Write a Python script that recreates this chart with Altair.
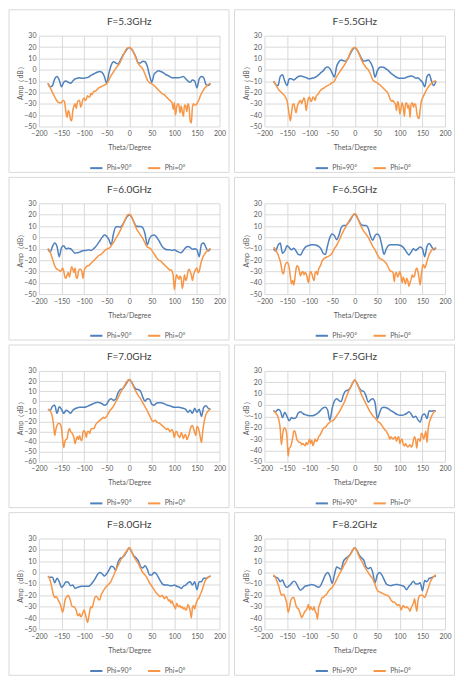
import altair as alt
import pandas as pd

FONT = "Lato"
BLUE = "#4F81BD"
ORANGE = "#F79646"
SERIES = ["Phi=90°", "Phi=0°"]
TITLES = ["F=5.3GHz", "F=5.5GHz", "F=6.0GHz", "F=6.5GHz",
          "F=7.0GHz", "F=7.5GHz", "F=8.0GHz", "F=8.2GHz"]
X_TICKS = [-200, -150, -100, -50, 0, 50, 100, 150, 200]
Y_MIN = [-50, -50, -50, -50, -60, -50, -50, -50]

THETA_B = list(range(-180, 181, 5))
THETA_O = [i * 2.5 for i in range(-72, 73)]

# Phi=90 deg (blue), 5 degree steps
B53 = [-12, -15, -14, -8, -6, -9, -15, -11, -10, -11, -12,
       -10, -8, -7.5, -7, -7.5, -7.5, -7, -6.5, -5, -4,
       -3, -2, -1.5, -2.5, -6, -12, -3, 4, 7, 6,
       5, 8, 12, 15, 18, 19.5, 18, 15, 11, 6,
       6, 7.5, 7, 3, -5, -11, -4, -2, -1, -1.5,
       -2.5, -4, -5, -6, -7, -7, -7, -7, -6.5, -6,
       -8, -10, -11, -9, -10, -16, -8, -6, -7, -13, -14, -12]
B55 = [-10, -13, -14, -6, -4.5, -10, -14, -8, -8, -9, -7.5,
       -6, -5.5, -6, -6.5, -7.5, -8, -7.5, -7, -6, -4.5,
       -2.5, -1, 1.5, 2.5, 1, -3, -6.5, 3, 7, 8.5,
       8, 7.5, 10, 14, 17.5, 19.5, 17.5, 14, 10, 7.5,
       8, 8.5, 6.5, 2, -6.5, -1, 2, 2.5, 2, 0.5,
       -1, -3, -4.5, -6, -7, -7.5, -7.5, -7.5, -6.5, -6,
       -5.5, -6, -7.5, -7, -9, -11, -15, -6, -4, -10, -14, -10]
B60 = [-10, -13, -8, -5, -8, -17, -9, -7.5, -10, -9.5, -10,
       -12, -14, -13.5, -13, -12, -11.5, -11.5, -11, -11.5, -10.5,
       -8.5, -6, -3, 0, 2, 1, -2, -6.5, 3, 9,
       9.5, 9, 11, 14.5, 18, 20, 18, 14, 10, 9.5,
       9.5, 8.5, 3, -6.5, -1, 1.5, 2, 0.5, -2.5, -6,
       -9, -10.5, -11, -11, -11.5, -11, -12, -13, -13.5, -11.5,
       -9, -8, -9, -10.5, -10, -11, -17, -6, -5, -9, -12, -10]
B65 = [-10, -12, -7, -5, -14, -12, -7.5, -9, -11, -9.5, -12,
       -15, -15.5, -12, -9, -7.5, -7, -6.5, -6.5, -7, -8,
       -10, -14, -15, -7, 0, 3, 1.5, -2, 2, 8.5,
       10.5, 10.5, 12.5, 15, 18.5, 20.5, 18, 14, 11, 10.5,
       10.5, 8, 1, -2.5, 1.5, 3, 1, -7, -15, -10,
       -7, -6.5, -6.5, -6.5, -6.5, -7, -8, -10, -13, -15.5,
       -13, -10, -11.5, -10, -8.5, -10, -17, -8, -5.5, -8, -11, -9]
B70 = [-8, -9, -5, -4, -12, -5.5, -8, -12, -9, -10, -12,
       -9, -7.5, -6.5, -6, -6, -6, -5.5, -4.5, -3.5, -2.5,
       -1.5, -1, -1.5, -2.5, -4, -3, 1, 2.5, 1, 2,
       8, 11.5, 12, 15, 18.5, 21.5, 19, 15, 12, 11.5,
       10, 4, 0, 2.5, 2, -3, -4, -2, -1.5, -1.5,
       -2, -3, -4, -4.5, -5.5, -6, -6, -6, -6.5, -7,
       -8, -11, -9, -12, -7, -11, -8, -15, -6, -4.5, -7, -8]
B75 = [-5, -6, -4, -5, -11, -6.5, -10, -14, -11, -12, -11,
       -7, -6, -7.5, -8.5, -9, -9.5, -9.5, -9, -8, -6.5,
       -4.5, -2.5, -2, -4.5, -13.5, -3, 3.5, 5.5, 4, 3,
       9, 12.5, 13, 15, 19, 22, 19, 15, 12.5, 12,
       8, 2.5, 4.5, 5.5, 2, -12, -7, -2.5, -2, -2.5,
       -3.5, -5, -6, -7.5, -8.5, -9, -9, -8.5, -7.5, -6,
       -8, -11, -10, -13, -15, -9, -8, -12, -5, -5.5, -5, -5]
B80 = [-3.5, -4, -4, -9, -5, -8, -13, -11, -8, -8.5, -11.5,
       -11, -14, -13, -12.5, -12, -12, -12, -12, -10.5, -8,
       -5, -1.5, 0, -1, -3, -1, 2, 5.5, 5, 2,
       9, 12.5, 13.5, 15.5, 19, 22, 18.5, 15, 13, 10.5,
       5.5, 4, 6, 3, -2, -2, 0, -1, -4.5, -8,
       -10.5, -11, -11, -11.5, -11.5, -11, -12, -12.5, -14, -12,
       -11, -9, -8, -11, -8, -15, -8, -8, -5, -5, -4, -3]
B82 = [-3, -4, -5, -8, -6.5, -11, -13, -11.5, -9.5, -7.5, -9,
       -13, -15.5, -14, -12, -11.5, -11, -10.5, -11, -12, -13,
       -11, -6.5, -2, 0, -3, -9.5, -2, 5, 4, 3,
       10, 12.5, 14, 16, 19.5, 22, 19.5, 15.5, 13, 11,
       5, 3.5, 4.5, 0, -9, -2, 0, -2, -6, -10,
       -11, -11.5, -11, -10.5, -10.5, -11, -11.5, -12.5, -15, -12,
       -10, -7.5, -10, -10, -9, -16, -7, -8, -5, -4.5, -3.5, -3]

# Phi=0 deg (orange), 2.5 degree steps
O53 = [-12, -14, -16, -18, -20, -22, -24, -26, -27.5, -28.5,
       -29, -29, -29, -27, -27, -30, -38, -42, -36, -38,
       -44, -45, -36, -32, -30, -34, -29, -27, -27, -33,
       -30, -26, -25, -27, -26, -23, -24, -24, -21, -22,
       -20, -19, -19, -18, -17, -16, -15.5, -15, -14.5, -14,
       -13.5, -13, -12.5, -11, -9, -7, -5, -3.5, -2, -0.5,
       1, 2.5, 3.5, 5, 6.5, 9, 11, 13.5, 15.5, 17.5,
       18.8, 19.5, 19.7, 19.5, 18.5, 17, 15, 12.5, 10, 7.5,
       5.5, 4, 3, 2, 0.5, -1.5, -4, -6.5, -9, -10.5,
       -11.5, -12, -12.5, -13, -14, -15, -16, -17, -18, -19,
       -20, -21, -21.5, -22, -23, -24, -25, -26, -27, -28,
       -29, -35, -29, -40, -33, -30, -31, -38, -32, -37,
       -41, -31, -32, -37, -30, -33, -45, -47, -33, -30,
       -31, -31, -30, -28, -26, -23, -21, -19, -17.5, -16,
       -15, -14, -13, -12.5, -12]
O55 = [-10, -11.5, -13, -15, -16.5, -18, -19, -20, -21, -22,
       -23, -25, -27, -33, -40, -45, -38, -31, -30, -34,
       -38, -33, -30, -28, -27, -30, -27, -25, -28, -36,
       -30, -25, -24, -28, -27, -24, -25, -27, -23, -22,
       -21, -19, -18, -17, -16.5, -16, -15, -14.5, -14, -13.5,
       -13, -12, -11.5, -11, -10, -8, -6, -4.5, -3, -1.5,
       0, 1.5, 3, 4.5, 6, 8, 10, 12.5, 15, 17,
       18.5, 19.5, 19.7, 19.3, 18, 16, 13.5, 11, 8.5, 6.5,
       5, 3.5, 2, 1, 0, -2, -4, -6.5, -9, -10,
       -10.5, -11, -11.5, -12.5, -13, -14, -15, -16, -17, -18,
       -19, -20, -22, -25, -27, -28, -27, -29, -30, -36,
       -28, -31, -39, -34, -29, -33, -41, -30, -29, -34,
       -31, -42, -30, -29, -33, -30, -31, -38, -42, -43,
       -35, -28, -25, -23, -21, -19, -17, -15.5, -14, -13,
       -12, -11, -10.5, -10, -10]
O60 = [-10, -11, -13, -16, -19, -22, -25, -27, -28, -28.5,
       -29, -30, -29, -27, -30, -35, -36, -33, -31, -35,
       -30, -26, -28, -31, -27, -35, -36, -30, -28, -28,
       -30, -36, -30, -27, -26, -25, -25, -24, -23, -22,
       -21, -20, -19, -18, -17, -16, -15.5, -15, -14, -13,
       -12, -11, -10.5, -10, -9.5, -9, -7.5, -6, -4.5, -3,
       -1, 0.5, 2, 4, 6, 8, 10, 12.5, 15, 17,
       19, 20, 20.3, 19.8, 18.5, 16, 13.5, 11, 8.5, 6.5,
       5, 3.5, 2, 0.5, -1, -3, -5, -7, -8.5, -9,
       -9.5, -10, -11.5, -13, -14.5, -16, -17.5, -19, -20, -20.5,
       -21, -22, -23, -24, -25, -26, -27, -28, -29, -28.5,
       -30, -34, -46, -38, -33, -35, -37, -34, -36, -45,
       -40, -33, -38, -36, -30, -28, -30, -33, -38, -33,
       -30, -28, -27, -31, -30, -25, -21, -18, -16, -14.5,
       -13, -12, -11, -10.5, -10]
O65 = [-9, -9.5, -11, -13, -15, -18, -21, -26, -31, -32,
       -26, -23, -22, -23, -27, -35, -41, -38, -42, -36,
       -28, -25, -26, -30, -34, -31, -30, -33, -31, -32,
       -36, -40, -33, -30, -32, -36, -38, -31, -30, -33,
       -28, -26, -24, -21, -19.5, -18.5, -18, -17.5, -17, -16.5,
       -16, -15, -14, -12, -10, -8.5, -7, -5, -3, -1,
       1.5, 3.5, 5.5, 7.5, 9, 11, 12.5, 14.5, 16, 17.5,
       19, 20.3, 20.8, 20.3, 18.5, 16, 13.5, 11, 9, 7,
       5.5, 4, 3, 1.5, 0, -2, -4, -6, -8, -9.5,
       -11, -13, -15, -17, -18.5, -19, -19.5, -20, -21, -22,
       -23, -25, -27, -29, -30, -30, -31, -39, -32, -31,
       -35, -33, -30, -34, -40, -35, -38, -41, -36, -38,
       -43, -40, -37, -33, -35, -34, -29, -27, -30, -36,
       -42, -33, -26, -24, -27, -25, -21, -18, -15, -13,
       -11.5, -10.5, -10, -9.5, -9]
O70 = [-8, -8.5, -9.5, -12, -16, -24, -34, -28, -24, -22,
       -22, -23, -27, -38, -46, -40, -38, -37, -30, -27,
       -30, -31, -33, -36, -42, -38, -35, -38, -34, -38,
       -39, -31, -29, -31, -36, -30, -30, -32, -28, -27,
       -27, -27, -24, -22, -21, -20, -19, -18, -17, -16,
       -17, -16, -15, -13, -11, -9, -8, -6.5, -5, -3,
       -1, 1, 3, 5.5, 8, 10, 12, 14, 16, 18,
       19.5, 21, 21.5, 21, 19, 16.5, 14, 11.5, 9.5, 7.5,
       5.5, 4, 2.5, 0.5, -1.5, -3.5, -5.5, -7.5, -9.5, -12,
       -14, -16.5, -19, -20, -19.5, -19, -20, -21, -21.5, -22,
       -23, -24, -25, -26, -27, -28, -27, -28, -30, -29,
       -28, -31, -36, -31, -30, -33, -35, -36, -31, -33,
       -37, -34, -33, -38, -36, -33, -28, -25, -24, -27,
       -31, -34, -25, -26, -30, -36, -41, -31, -23, -17,
       -13, -11, -9.5, -8.5, -8]
O75 = [-5, -6, -7, -8.5, -10.5, -14, -21, -35, -27, -21,
       -20, -22, -28, -45, -38, -37, -34, -29, -23, -23,
       -27, -31, -32, -33, -33, -35, -34, -35, -36, -33,
       -35, -33, -30, -34, -31, -36, -33, -30, -32, -31,
       -28, -27, -25, -23, -21, -20, -19.5, -18.5, -17, -16,
       -15, -14.5, -14, -13.5, -12.5, -11, -9.5, -8, -6.5, -5,
       -3, -1, 1, 3, 5.5, 8, 10.5, 13, 15, 17,
       19, 21, 22, 21, 19, 16.5, 14, 11.5, 9, 7,
       5, 3, 1, -1, -3, -5, -6.5, -8, -9.5, -10.5,
       -11.5, -12.5, -14, -15, -15.5, -16.5, -18, -19.5, -21, -22,
       -23, -25, -27, -30, -28, -29, -30, -29, -28, -32,
       -29, -28, -34, -31, -30, -35, -36, -34, -36, -37,
       -36, -35, -37, -36, -31, -28, -31, -38, -30, -30,
       -32, -25, -26, -30, -27, -23, -33, -22, -16, -12.5,
       -10, -8, -6.5, -5.5, -5]
O80 = [-3, -4.5, -7, -11, -16, -20, -22, -21, -22, -24,
       -26, -28, -32, -35, -31, -25, -22, -21, -20, -22,
       -25, -29, -30, -30, -31, -33, -37, -38, -36, -39,
       -38, -35, -33, -36, -40, -44, -40, -34, -30, -31,
       -28, -24, -21, -21, -22, -24, -24, -20, -18, -16,
       -14.5, -13, -12, -11, -10, -9, -7.5, -5, -3, -0.5,
       2, 4, 6, 8, 10, 12, 13.5, 15, 16.5, 18,
       19.5, 21, 22, 21, 19, 16.5, 14, 12.5, 11, 9.5,
       8, 6, 4, 2, 0, -1, -2, -3.5, -5, -7,
       -9, -10.5, -12, -13.5, -15, -16.5, -18, -19, -20, -21,
       -21, -20, -21, -23, -22, -21, -23, -25, -24, -27,
       -25, -28, -30, -32, -27, -29, -30, -29, -31, -30,
       -32, -31, -33, -32, -28, -30, -34, -40, -31, -29,
       -32, -28, -25, -23, -22, -19, -17, -14, -11, -8,
       -6, -5, -4, -3.5, -3]
O82 = [-2, -3, -5, -7.5, -10, -13, -17, -20, -19.5, -19,
       -21, -24, -28, -35, -32, -26, -23, -22, -22, -25,
       -29, -31, -32, -34, -37, -39.5, -38, -36, -34, -33,
       -31, -28, -33, -30, -32, -33, -30, -34, -36, -41,
       -31, -28, -25, -22, -22, -21, -20, -19, -17.5, -16,
       -15, -14, -13, -11.5, -10, -8, -6, -4, -2, 0,
       1.5, 3.5, 5.5, 7.5, 9, 11, 13, 14.5, 16, 17.5,
       19.5, 21, 22, 21, 19, 16.5, 14, 12, 10.5, 8.5,
       6.5, 4.5, 3, 1.5, 0, -1.5, -3, -4, -5.5, -8,
       -10.5, -13.5, -15.5, -16.5, -17, -17.5, -18, -18.5, -19, -19.5,
       -20, -20, -21, -22, -24, -25, -26, -26, -27, -28,
       -29, -28, -29, -33, -31, -29, -30, -31, -30, -31,
       -32, -34, -31, -29, -27, -23, -29, -34, -25, -21,
       -20, -20, -20, -21, -22, -20, -17, -14, -11, -8,
       -6, -4.5, -3.5, -2.5, -2]

BLUES = [B53, B55, B60, B65, B70, B75, B80, B82]
ORANGES = [O53, O55, O60, O65, O70, O75, O80, O82]
for b in BLUES:
    assert len(b) == len(THETA_B), len(b)
for o in ORANGES:
    assert len(o) == len(THETA_O), len(o)

W, H = 181, 91
L, R, T, B = 30, 9.5, 26, 46
GRID = "#d9d9d9"
TXT = "#595959"


def panel(title, blue, orange, ymin):
    df_b = pd.DataFrame({"theta": THETA_B, "amp": blue, "series": SERIES[0]})
    df_o = pd.DataFrame({"theta": THETA_O, "amp": orange, "series": SERIES[1]})
    x = alt.X("theta:Q",
              scale=alt.Scale(domain=[-200, 200], nice=False, zero=False),
              axis=alt.Axis(values=X_TICKS, title="Theta/Degree", grid=True,
                            gridColor=GRID, gridWidth=1, ticks=False, domain=False,
                            labelFontSize=7, labelColor=TXT, labelFont=FONT,
                            labelPadding=3, labelFlush=False, labelOverlap=False,
                            titleFontSize=7, titleColor=TXT, titleFont=FONT,
                            titleFontWeight="normal", titleY=21,
                            titleBaseline="middle"))
    y = alt.Y("amp:Q",
              scale=alt.Scale(domain=[ymin, 30], nice=False, zero=False),
              axis=alt.Axis(values=list(range(ymin, 31, 10)), title="Amp（dB）",
                            grid=True, gridColor=GRID, gridWidth=1, ticks=False,
                            domain=False, labelFontSize=7, labelColor=TXT,
                            labelFont=FONT, labelPadding=3, labelOverlap=False,
                            titleFontSize=7, titleColor=TXT, titleFont=FONT,
                            titleFontWeight="normal", titleX=-18, titleY=H / 2,
                            titleAlign="center", titleBaseline="middle",
                            titleAngle=270))
    color = alt.Color("series:N",
                      scale=alt.Scale(domain=SERIES, range=[BLUE, ORANGE]),
                      legend=alt.Legend(title=None, orient="none", legendX=50,
                                        legendY=H + 34, direction="horizontal",
                                        symbolType="stroke", symbolSize=150,
                                        symbolStrokeWidth=2, labelFontSize=7,
                                        labelColor=TXT, labelFont=FONT,
                                        columnPadding=12, labelOffset=3,
                                        padding=0))
    frame = alt.Chart(alt.Data(values=[{"k": 1}])).mark_rect(
        fill="transparent", stroke=GRID, strokeWidth=1
    ).encode(x=alt.value(-L), x2=alt.value(W + R),
             y=alt.value(-T), y2=alt.value(H + B))
    head = alt.Chart(alt.Data(values=[{"t": title}])).mark_text(
        fontSize=10, font=FONT, color="#404040", align="center",
        baseline="middle"
    ).encode(x=alt.value(W / 2), y=alt.value(-13.5), text="t:N")
    lb = alt.Chart(df_b).mark_line(strokeWidth=1.5, interpolate="monotone").encode(
        x=x, y=y, color=color)
    lo = alt.Chart(df_o).mark_line(strokeWidth=1.5, interpolate="monotone").encode(
        x=x, y=y, color=color)
    return alt.layer(frame, head, lb, lo).properties(width=W, height=H)


panels = [panel(TITLES[i], BLUES[i], ORANGES[i], Y_MIN[i]) for i in range(8)]

chart = alt.concat(*panels, columns=2, spacing=3).resolve_scale(
    color="independent", x="independent", y="independent"
).properties(padding=0, background="white").configure_view(stroke="transparent")

chart.save("out.html", embed_options={"renderer": "svg", "actions": False})
